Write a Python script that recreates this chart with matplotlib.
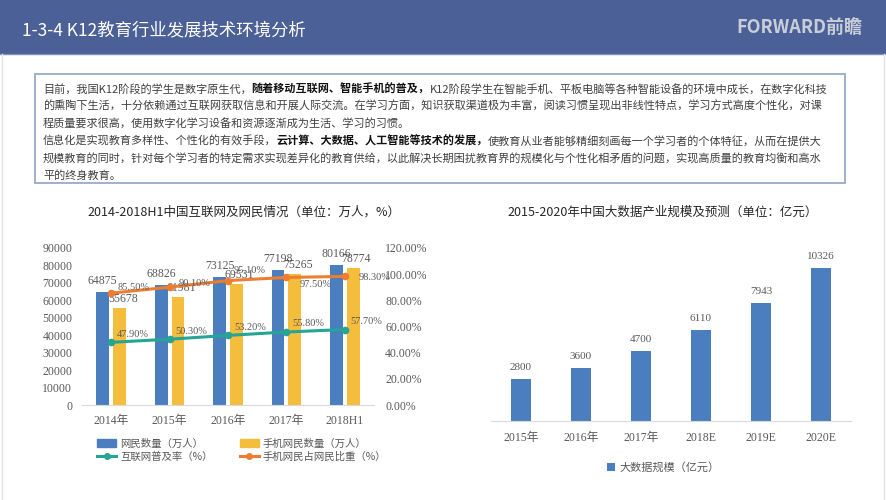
import numpy as np
import matplotlib
matplotlib.use('Agg')
import matplotlib.pyplot as plt
from matplotlib.patches import Rectangle, Patch
from matplotlib.lines import Line2D
from matplotlib.ticker import FuncFormatter

CJK = ['Noto Sans CJK SC', 'DejaVu Sans']
NUM = ['Liberation Serif', 'Noto Sans CJK SC']
plt.rcParams['font.family'] = CJK

# 左图：互联网及网民情况
years_a = ['2014年', '2015年', '2016年', '2017年', '2018H1']
netizens = [64875, 68826, 73125, 77198, 80166]
mobile_netizens = [55678, 61981, 69531, 75265, 78774]
penetration = [47.9, 50.3, 53.2, 55.8, 57.7]
mobile_share = [85.5, 90.1, 95.1, 97.5, 98.3]

# 右图：大数据产业规模
years_b = ['2015年', '2016年', '2017年', '2018E', '2019E', '2020E']
bigdata = [2800, 3600, 4700, 6110, 7943, 10326]

# 文本框内容 (文字, 是否加粗)
para = [
    [('目前，我国K12阶段的学生是数字原生代，', False), ('随着移动互联网、智能手机的普及，', True),
     ('K12阶段学生在智能手机、平板电脑等各种智能设备的环境中成长，在数字化科技', False)],
    [('的熏陶下生活，十分依赖通过互联网获取信息和开展人际交流。在学习方面，知识获取渠道极为丰富，阅读习惯呈现出非线性特点，学习方式高度个性化，对课', False)],
    [('程质量要求很高，使用数字化学习设备和资源逐渐成为生活、学习的习惯。', False)],
    [('信息化是实现教育多样性、个性化的有效手段，', False), ('云计算、大数据、人工智能等技术的发展，', True),
     ('使教育从业者能够精细刻画每一个学习者的个体特征，从而在提供大', False)],
    [('规模教育的同时，针对每个学习者的特定需求实现差异化的教育供给，以此解决长期困扰教育界的规模化与个性化相矛盾的问题，实现高质量的教育均衡和高水', False)],
    [('平的终身教育。', False)],
]

BLUE = '#4a7ebf'
YELLOW = '#f5bd3c'
TEAL = '#24a596'
ORANGE = '#ec7d31'
GRAY = '#595959'

W, H = 887, 500
fig = plt.figure(figsize=(W / 100, H / 100), dpi=100)


def fx(x):
    return x / W


def fy(y):
    return 1 - y / H


# 顶部标题栏
fig.patches.append(Rectangle((0, fy(53)), 1, 53 / H, transform=fig.transFigure,
                             color='#4a6096', zorder=0))
fig.lines.append(Line2D([0, 1], [fy(53.5), fy(53.5)], transform=fig.transFigure,
                        color='#7d8fbb', lw=1))
fig.text(fx(22), fy(31), '1-3-4 K12教育行业发展技术环境分析', color='white',
         fontsize=12.5, va='center', ha='left')
fig.text(fx(862), fy(27), 'FORWARD前瞻', color='#c9cdd8', fontsize=13,
         fontweight='bold', va='center', ha='right')

# 边框
fig.lines.append(Line2D([fx(2), fx(2)], [0, fy(54)], transform=fig.transFigure, color='#e3e3e3', lw=1))
fig.lines.append(Line2D([fx(884), fx(884)], [0, fy(54)], transform=fig.transFigure, color='#e3e3e3', lw=1))

# 文本框
fig.patches.append(Rectangle((fx(35), fy(183)), fx(845) - fx(35), (183 - 74) / H,
                             transform=fig.transFigure, fill=False,
                             edgecolor='#9aabc6', lw=1.3))
renderer = fig.canvas.get_renderer()
line_y = [89, 106.5, 124, 141, 158.5, 175]
for ly, parts in zip(line_y, para):
    x = fx(43)
    for s, bold in parts:
        t = fig.text(x, fy(ly), s, fontsize=8.0, va='center', ha='left',
                     color='#111111' if bold else '#404040',
                     fontweight='bold' if bold else 'normal')
        x += t.get_window_extent(renderer=renderer).width / fig.bbox.width

# 左图
fig.text(fx(244), fy(212), '2014-2018H1中国互联网及网民情况（单位：万人，%）',
         fontsize=9, color='#262626', ha='center', va='center')
ax1 = fig.add_axes([fx(82), fy(405), 292 / W, 157 / H])
x = np.arange(len(years_a))
bw = 0.22
ax1.bar(x - 0.145, netizens, bw, color=BLUE)
ax1.bar(x + 0.145, mobile_netizens, bw, color=YELLOW)
ax1.set_xlim(-0.5, len(years_a) - 0.5)
ax1.set_ylim(0, 90000)
ax1.set_yticks(range(0, 90001, 10000))
ax1.set_xticks(x)
ax1.set_xticklabels(years_a, family=NUM, fontsize=8.5, color=GRAY)
for lab in ax1.get_yticklabels():
    lab.set_family(NUM)
ax1.tick_params(axis='y', length=0, labelsize=8.5, labelcolor=GRAY, pad=7)
ax1.tick_params(axis='x', length=0, pad=7)
for s in ['top', 'right', 'left']:
    ax1.spines[s].set_visible(False)
ax1.spines['bottom'].set_color('#d9d9d9')
for xi, v in zip(x, netizens):
    ax1.annotate(str(v), (xi - 0.145, v), xytext=(0, 5), textcoords='offset pixels',
                 ha='center', va='bottom', fontsize=8.5, color=GRAY, family=NUM)
for xi, v in zip(x, mobile_netizens):
    ax1.annotate(str(v), (xi + 0.145, v), xytext=(3, 3), textcoords='offset pixels',
                 ha='center', va='bottom', fontsize=8.5, color=GRAY, family=NUM)

ax2 = ax1.twinx()
ax2.set_ylim(0, 120)
ax2.set_yticks(range(0, 121, 20))
ax2.yaxis.set_major_formatter(FuncFormatter(lambda v, p: f'{v:.2f}%'))
for lab in ax2.get_yticklabels():
    lab.set_family(NUM)
ax2.tick_params(axis='y', length=0, labelsize=8.5, labelcolor=GRAY, pad=8)
for s in ax2.spines.values():
    s.set_visible(False)
ax2.plot(x, penetration, color=TEAL, lw=2.2, marker='o', ms=4.5)
ax2.plot(x, mobile_share, color=ORANGE, lw=2.2, marker='o', ms=4.5)
for xi, v in zip(x, penetration):
    ax2.annotate(f'{v:.2f}%', (xi, v), xytext=(6, 8), textcoords='offset pixels',
                 ha='left', va='center', fontsize=7.5, color=GRAY, family=NUM)
share_off = [(6, 6), (9, 4), (6, 10), (13, -7), (14, -1)]
for xi, v, off in zip(x, mobile_share, share_off):
    ax2.annotate(f'{v:.2f}%', (xi, v), xytext=off, textcoords='offset pixels',
                 ha='left', va='center', fontsize=7.5, color=GRAY, family=NUM)

handles = [Patch(color=BLUE), Line2D([], [], color=TEAL, lw=2.2, marker='o', ms=4),
           Patch(color=YELLOW), Line2D([], [], color=ORANGE, lw=2.2, marker='o', ms=4)]
labels = ['网民数量（万人）', '互联网普及率（%）', '手机网民数量（万人）', '手机网民占网民比重（%）']
fig.legend(handles, labels, ncol=2, loc='upper left', bbox_to_anchor=(fx(88), fy(429)),
           frameon=False, fontsize=7.5, labelcolor=GRAY, handlelength=1.8,
           handleheight=0.7, handletextpad=0.4, columnspacing=2.6, labelspacing=0.3)

# 右图
fig.text(fx(663), fy(212), '2015-2020年中国大数据产业规模及预测（单位：亿元）',
         fontsize=9, color='#262626', ha='center', va='center')
ax3 = fig.add_axes([fx(491), fy(421), 360 / W, 178 / H])
x3 = np.arange(len(years_b))
ax3.bar(x3, bigdata, 0.32, color=BLUE, label='大数据规模（亿元）')
ax3.set_xlim(-0.5, len(years_b) - 0.5)
ax3.set_ylim(0, 12000)
ax3.set_yticks([])
ax3.set_xticks(x3)
ax3.set_xticklabels(years_b, family=NUM, fontsize=8.5, color=GRAY)
ax3.tick_params(axis='x', length=0, pad=8)
for s in ['top', 'right', 'left']:
    ax3.spines[s].set_visible(False)
ax3.spines['bottom'].set_color('#d9d9d9')
for xi, v in zip(x3, bigdata):
    ax3.annotate(str(v), (xi, v), xytext=(0, 7), textcoords='offset pixels',
                 ha='center', va='bottom', fontsize=8, color=GRAY, family=NUM)
ax3.legend(loc='upper center', bbox_to_anchor=(fx(663), fy(452)),
           bbox_transform=fig.transFigure, frameon=False, fontsize=8,
           labelcolor=GRAY, handlelength=0.7, handleheight=0.7, handletextpad=0.4)

fig.savefig('out.png', dpi=100)
